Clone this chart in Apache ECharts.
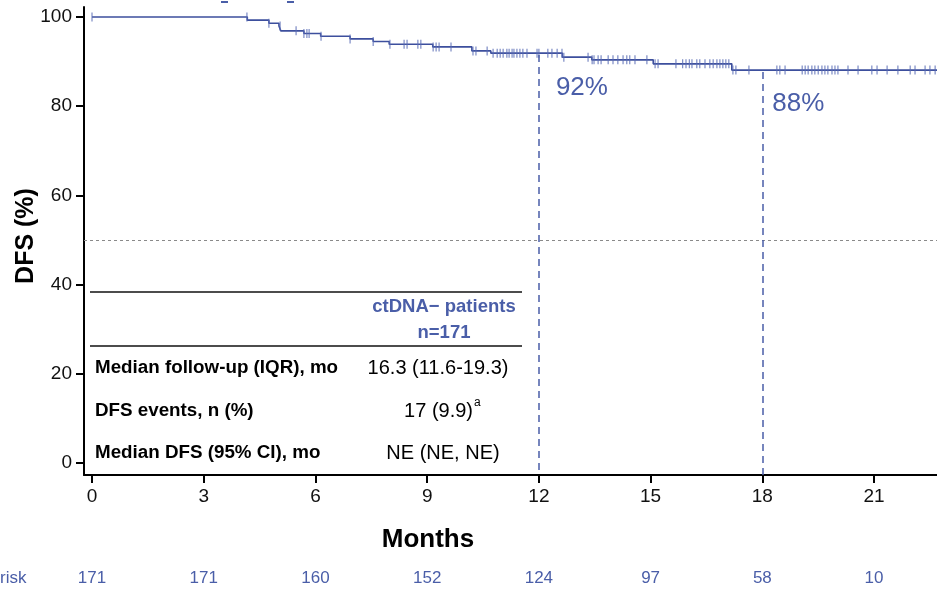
<!DOCTYPE html>
<html>
<head>
<meta charset="utf-8">
<script src="https://cdn.jsdelivr.net/npm/echarts@6/dist/echarts.min.js"></script>
<style>
  html, body { margin: 0; padding: 0; background: #fff; }
  #main { width: 937px; height: 591px; }
</style>
</head>
<body>
<div id="main"></div>
<script>
// KM 曲线: 每一步的时间(月)和 DFS(%)
const stepTimes = [0, 4.17, 4.75, 5.02, 5.07, 5.69, 6.14, 6.93, 7.55, 7.98, 9.15, 10.2, 10.71, 12.63, 13.42, 15.07, 17.18, 22.69]
const stepSurv = [100, 99.3, 98.6, 98.0, 96.9, 96.3, 95.7, 95.1, 94.5, 93.9, 93.3, 92.4, 91.9, 91.0, 90.4, 89.5, 88.1, 88.1]
// 删失时间点(月)
const censorTimes = [0, 4.16, 4.75, 5.05, 5.48, 5.69, 5.77, 5.83, 6.15, 6.93, 7.55, 8.0,
  8.38, 8.46, 8.75, 8.83, 9.16, 9.24, 9.32, 9.64, 10.23, 10.31, 10.61, 10.77, 10.88, 10.96, 11.04,
  11.14, 11.2, 11.28, 11.33, 11.41, 11.49, 11.57, 11.68, 11.95, 12.0, 12.24, 12.35, 12.49, 12.62, 12.67,
  13.32, 13.43, 13.48, 13.59, 13.67, 13.86, 13.99, 14.12, 14.26, 14.36, 14.44, 14.58, 14.9, 15.12, 15.2,
  15.68, 15.86, 15.95, 16.04, 16.11, 16.24, 16.32, 16.46, 16.59, 16.68, 16.78, 16.86, 16.94, 17.02, 17.1,
  17.21, 17.29, 17.64, 18.39, 18.47, 18.61, 19.07, 19.15, 19.23, 19.33, 19.41, 19.5, 19.6, 19.68, 19.76,
  19.87, 19.95, 20.03, 20.3, 20.57, 20.94, 21.08, 21.35, 21.64, 21.97, 22.1, 22.37, 22.5, 22.64]
// 坐标轴刻度
const monthTicks = [0, 3, 6, 9, 12, 15, 18, 21]
const pctTicks = [0, 20, 40, 60, 80, 100]
// 风险人数
const atRisk = [171, 171, 160, 152, 124, 97, 58, 10]
// 标志时间点
const landmarkMonths = [12, 18]
const landmarkLabels = ['92%', '88%']
// 表格
const tableRows = ['Median follow-up (IQR), mo', 'DFS events, n (%)', 'Median DFS (95% CI), mo']
const tableValues = ['16.3 (11.6-19.3)', '17 (9.9)', 'NE (NE, NE)']

const FONT = "'Liberation Sans', Arial, sans-serif"
const BLUE = '#4a5ea8'
const LINE_BLUE = '#3d4f9d'

// 按时间查找生存率
function survAt(t) {
  let s = stepSurv[0]
  for (let i = 0; i < stepTimes.length; i++) {
    if (stepTimes[i] <= t) s = stepSurv[i]
  }
  return s
}

const myChart = echarts.init(document.getElementById('main'))

const option = {
  animation: false,
  grid: { left: 84, right: 0, top: 7, bottom: 116 },
  xAxis: [
    {
      type: 'value',
      min: -0.215,
      max: 22.69,
      axisLine: { show: true, onZero: false, lineStyle: { color: '#000', width: 2 } },
      axisTick: { show: true, length: 8, lineStyle: { color: '#000', width: 2 }, customValues: monthTicks },
      axisLabel: { customValues: monthTicks, margin: 12, fontSize: 19, color: '#111', fontFamily: FONT },
      splitLine: { show: false }
    },
    {
      type: 'value',
      min: -0.215,
      max: 22.69,
      position: 'bottom',
      offset: 90,
      axisLine: { show: false, onZero: false },
      axisTick: { show: false },
      axisLabel: {
        customValues: monthTicks,
        margin: 5,
        fontSize: 17,
        color: BLUE,
        fontFamily: FONT,
        formatter: v => atRisk[monthTicks.indexOf(v)]
      },
      splitLine: { show: false }
    }
  ],
  yAxis: {
    type: 'value',
    min: -2.7,
    max: 102.25,
    axisLine: { show: true, onZero: false, lineStyle: { color: '#000', width: 2 } },
    axisTick: { show: true, length: 8, lineStyle: { color: '#000', width: 2 }, customValues: pctTicks },
    axisLabel: { customValues: pctTicks, margin: 12, fontSize: 19, color: '#111', fontFamily: FONT },
    splitLine: { show: false }
  },
  series: [
    {
      type: 'line',
      step: 'end',
      symbol: 'none',
      data: stepTimes.map((t, i) => [t, stepSurv[i]]),
      lineStyle: { color: LINE_BLUE, width: 1.6 },
      z: 3,
      markLine: {
        silent: true,
        symbol: ['none', 'none'],
        label: { show: false },
        data: [
          [
            { coord: [-0.215, 50], lineStyle: { color: '#8a8a8a', type: [3, 3], width: 1.2 } },
            { coord: [22.69, 50] }
          ],
          ...landmarkMonths.map(m => [
            { coord: [m, survAt(m) - 0.4], lineStyle: { color: BLUE, type: [7, 5], width: 1.5 } },
            { coord: [m, -2.7] }
          ])
        ]
      },
      markPoint: {
        silent: true,
        symbolSize: 0,
        data: landmarkMonths.map((m, i) => ({
          coord: [m, survAt(m)],
          label: {
            show: true,
            formatter: landmarkLabels[i],
            position: 'inside',
            align: 'left',
            verticalAlign: 'middle',
            offset: i === 0 ? [17, 35] : [10, 34],
            fontSize: 26,
            color: BLUE,
            fontFamily: FONT
          }
        }))
      }
    },
    {
      type: 'scatter',
      symbol: 'rect',
      symbolSize: [1.2, 9],
      itemStyle: { color: '#5a6db5' },
      data: censorTimes.map(t => [t, survAt(t)]),
      z: 4
    }
  ],
  graphic: [
    // 顶部被裁切的图例残留
    { type: 'rect', shape: { x: 221, y: 1, width: 7, height: 2 }, style: { fill: BLUE } },
    { type: 'rect', shape: { x: 287, y: 1, width: 7, height: 2 }, style: { fill: BLUE } },
    // 轴标题
    {
      type: 'text', x: 26, y: 236, rotation: Math.PI / 2,
      style: { text: 'DFS (%)', font: `bold 25px ${FONT}`, fill: '#000', textAlign: 'center', textVerticalAlign: 'middle' }
    },
    {
      type: 'text', x: 428, y: 540,
      style: { text: 'Months', font: `bold 26px ${FONT}`, fill: '#000', textAlign: 'center', textVerticalAlign: 'middle' }
    },
    {
      type: 'text', x: 0, y: 578,
      style: { text: 'risk', font: `17px ${FONT}`, fill: BLUE, textAlign: 'left', textVerticalAlign: 'middle' }
    },
    // 表格
    { type: 'line', shape: { x1: 90, y1: 292, x2: 522, y2: 292 }, style: { stroke: '#111', lineWidth: 1.5 } },
    { type: 'line', shape: { x1: 90, y1: 346, x2: 522, y2: 346 }, style: { stroke: '#111', lineWidth: 1.5 } },
    {
      type: 'text', x: 444, y: 307,
      style: { text: 'ctDNA\u2212 patients', font: `bold 18.5px ${FONT}`, fill: BLUE, textAlign: 'center', textVerticalAlign: 'middle' }
    },
    {
      type: 'text', x: 444, y: 333,
      style: { text: 'n=171', font: `bold 18.5px ${FONT}`, fill: BLUE, textAlign: 'center', textVerticalAlign: 'middle' }
    },
    ...tableRows.map((r, i) => ({
      type: 'text', x: 95, y: [368, 411, 453][i],
      style: { text: r, font: `bold 18.8px ${FONT}`, fill: '#000', textAlign: 'left', textVerticalAlign: 'middle' }
    })),
    {
      type: 'text', x: 438, y: 368,
      style: { text: tableValues[0], font: `20px ${FONT}`, fill: '#000', textAlign: 'center', textVerticalAlign: 'middle' }
    },
    {
      type: 'text', x: 473, y: 411,
      style: { text: tableValues[1], font: `20px ${FONT}`, fill: '#000', textAlign: 'right', textVerticalAlign: 'middle' }
    },
    {
      type: 'text', x: 474, y: 403,
      style: { text: 'a', font: `12px ${FONT}`, fill: '#000', textAlign: 'left', textVerticalAlign: 'middle' }
    },
    {
      type: 'text', x: 443, y: 453,
      style: { text: tableValues[2], font: `20px ${FONT}`, fill: '#000', textAlign: 'center', textVerticalAlign: 'middle' }
    }
  ]
}

option && myChart.setOption(option)
</script>
</body>
</html>
